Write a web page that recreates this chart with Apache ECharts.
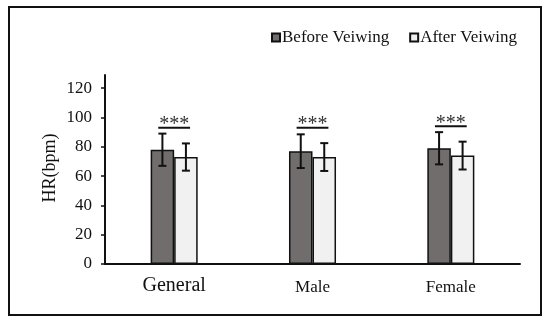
<!DOCTYPE html>
<html><head><meta charset="utf-8">
<script src="https://cdn.jsdelivr.net/npm/echarts@6/dist/echarts.min.js"></script>
<style>html,body{margin:0;padding:0;background:#fff}#c{width:550px;height:326px}</style>
</head><body><div id="c"></div>
<script>
var categories = ['General', 'Male', 'Female'];
var before = [78, 77, 79];
var after = [73, 73, 74];
var beforeErr = [11, 11.5, 11];
var afterErr = [9.3, 9.5, 9.5];
var sigLevel = [93, 93, 94];
var sigText = ['***', '***', '***'];
var yTicks = [0, 120, 20];
var yAxisTop = 129;

var serif = '"Liberation Serif","DejaVu Serif",serif';
var chart = echarts.init(document.getElementById('c'));

function errData(vals, errs, side) {
  return vals.map(function (v, i) { return [i, v - errs[i], v + errs[i], side]; });
}

function renderErr(params, api) {
  var i = api.value(0), lo = api.value(1), hi = api.value(2), side = api.value(3);
  var band = api.size([1, 0])[0];
  var c = api.coord([i, 0]);
  var x = c[0] + side * band * 0.085;
  var pLo = api.coord([i, lo])[1], pHi = api.coord([i, hi])[1];
  var cap = 4;
  var st = { stroke: '#111', lineWidth: 2 };
  return { type: 'group', children: [
    { type: 'line', shape: { x1: x, y1: pLo, x2: x, y2: pHi }, style: st },
    { type: 'line', shape: { x1: x - cap, y1: pLo, x2: x + cap, y2: pLo }, style: st },
    { type: 'line', shape: { x1: x - cap, y1: pHi, x2: x + cap, y2: pHi }, style: st }
  ]};
}

function renderSig(params, api) {
  var i = api.value(0), lvl = api.value(1);
  var band = api.size([1, 0])[0];
  var c = api.coord([i, lvl]);
  var hw = band * 0.115;
  return { type: 'group', children: [
    { type: 'line', shape: { x1: c[0] - hw, y1: c[1], x2: c[0] + hw, y2: c[1] }, style: { stroke: '#111', lineWidth: 2 } },
    { type: 'text', style: { text: sigText[i], x: c[0], y: c[1] + 7, align: 'center', verticalAlign: 'bottom', font: '20px ' + serif, fill: '#333' } }
  ]};
}

chart.setOption({
  animation: false,
  backgroundColor: '#fff',
  graphic: [
    { type: 'rect', shape: { x: 9, y: 7, width: 532, height: 308 }, style: { fill: 'none', stroke: '#111', lineWidth: 2 }, silent: true },
    { type: 'text', x: 50, y: 168, rotation: Math.PI / 2, style: { text: 'HR(bpm)', align: 'center', verticalAlign: 'middle', font: '18px ' + serif, fill: '#111' }, silent: true }
  ],
  legend: {
    data: ['Before Veiwing', 'After Veiwing'],
    left: 266, top: 24, itemWidth: 8, itemHeight: 8, itemGap: 20,
    icon: 'rect',
    textStyle: { fontFamily: serif, fontSize: 17, color: '#111', padding: [0, 0, 0, -3] }
  },
  grid: { left: 105, right: 30, top: 75, bottom: 62 },
  xAxis: {
    type: 'category', data: categories,
    axisLine: { lineStyle: { color: '#111', width: 2 } },
    axisTick: { show: false },
    axisLabel: {
      margin: 12, fontFamily: serif, color: '#111',
      formatter: function (v) { return v === 'General' ? '{big|' + v + '}' : '{sm|' + v + '}'; },
      rich: { big: { fontSize: 20, fontFamily: serif, color: '#111' }, sm: { fontSize: 17, fontFamily: serif, color: '#111', padding: [3, 0, 0, 0] } }
    }
  },
  yAxis: {
    type: 'value', min: yTicks[0], max: yAxisTop, interval: yTicks[2],
    axisLine: { show: true, lineStyle: { color: '#111', width: 2 } },
    axisTick: { show: true, length: 4, lineStyle: { color: '#111', width: 1.5 } },
    splitLine: { show: false },
    axisLabel: { fontFamily: serif, fontSize: 17, color: '#111', margin: 13, showMaxLabel: false,
      formatter: function (v) { return (v % yTicks[2] === 0 && v <= yTicks[1]) ? String(v) : ''; } }
  },
  series: [
    { name: 'Before Veiwing', type: 'bar', data: before, barGap: '0%', barCategoryGap: '66%',
      itemStyle: { color: '#716d6d', borderColor: '#111', borderWidth: 1.5 } },
    { name: 'After Veiwing', type: 'bar', data: after,
      itemStyle: { color: '#f1f1f1', borderColor: '#111', borderWidth: 1.5 } },
    { type: 'custom', renderItem: renderErr, data: errData(before, beforeErr, -1), z: 10, silent: true },
    { type: 'custom', renderItem: renderErr, data: errData(after, afterErr, 1), z: 10, silent: true },
    { type: 'custom', renderItem: renderSig, data: sigLevel.map(function (v, i) { return [i, v]; }), z: 10, silent: true }
  ]
});
</script></body></html>
